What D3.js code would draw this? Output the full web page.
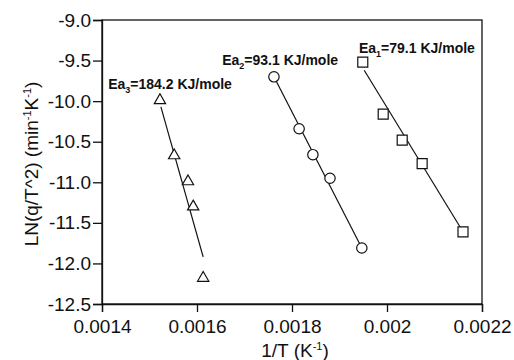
<!DOCTYPE html>
<html><head><meta charset="utf-8">
<script src="https://cdn.jsdelivr.net/npm/d3@7"></script>
<style>body{margin:0;background:#fff}svg{display:block}text{font-family:"Liberation Sans",Arial,sans-serif;fill:#111}</style>
</head><body><svg id="c" width="514" height="360"></svg>
<script>
// Data
const xTicks = [0.0014, 0.0016, 0.0018, 0.002, 0.0022];
const xTickLabels = ["0.0014", "0.0016", "0.0018", "0.002", "0.0022"];
const yTicks = [-9.0, -9.5, -10.0, -10.5, -11.0, -11.5, -12.0, -12.5];
const yTickLabels = ["-9.0", "-9.5", "-10.0", "-10.5", "-11.0", "-11.5", "-12.0", "-12.5"];
const s1X = [0.001949, 0.001992, 0.002032, 0.002074, 0.002160];
const s1Y = [-9.52, -10.16, -10.48, -10.77, -11.61];
const s1Fit = [[0.001952, -9.62], [0.002160, -11.61]];
const s2X = [0.001762, 0.001815, 0.001844, 0.001880, 0.001947];
const s2Y = [-9.70, -10.34, -10.66, -10.95, -11.81];
const s2Fit = [[0.001762, -9.70], [0.001947, -11.81]];
const s3X = [0.001522, 0.001552, 0.001581, 0.001592, 0.001613];
const s3Y = [-9.99, -10.67, -10.99, -11.30, -12.18];
const s3Fit = [[0.001524, -10.07], [0.001613, -11.92]];
const labels = [
  {main: "Ea", sub: "1", rest: "=79.1 KJ/mole", x: 0.001941, y: -9.41},
  {main: "Ea", sub: "2", rest: "=93.1 KJ/mole", x: 0.001653, y: -9.56},
  {main: "Ea", sub: "3", rest: "=184.2 KJ/mole", x: 0.001413, y: -9.85}
];

const svg = d3.select("#c");
const x = d3.scaleLinear().domain([0.0014, 0.0022]).range([102, 482]);
const y = d3.scaleLinear().domain([-12.5, -9.0]).range([304, 20]);

// frame
svg.append("rect").attr("x", 102).attr("y", 20).attr("width", 380).attr("height", 284)
  .attr("fill", "none").attr("stroke", "#111").attr("stroke-width", 1.3);

const xa = svg.append("g").attr("transform", "translate(0,304)")
  .call(d3.axisBottom(x).tickValues(xTicks).tickFormat((d, i) => xTickLabels[i]).tickSizeOuter(0).tickSize(8).tickPadding(8));
const ya = svg.append("g").attr("transform", "translate(102,0)")
  .call(d3.axisLeft(y).tickValues(yTicks).tickFormat((d, i) => yTickLabels[i]).tickSizeOuter(0).tickSize(9).tickPadding(2));
[xa, ya].forEach(a => {
  a.select(".domain").attr("stroke", "#111").attr("stroke-width", 1.3);
  a.selectAll(".tick line").attr("stroke", "#111").attr("stroke-width", 1.3);
  a.selectAll(".tick text").attr("font-size", 19).attr("fill", "#111").attr("font-family", "Liberation Sans, Arial, sans-serif");
});

const line = d3.line().x(d => x(d[0])).y(d => y(d[1]));
[s1Fit, s2Fit, s3Fit].forEach(f => {
  svg.append("path").attr("d", line(f)).attr("fill", "none").attr("stroke", "#111").attr("stroke-width", 1.2);
});

const sym = (type, size) => d3.symbol().type(type).size(size)();
function pts(xs, ys, type, size) {
  svg.append("g").selectAll("path").data(xs.map((v, i) => [v, ys[i]])).join("path")
    .attr("transform", d => `translate(${x(d[0])},${y(d[1])})`)
    .attr("d", sym(type, size))
    .attr("fill", "#fff").attr("stroke", "#111").attr("stroke-width", 1.2);
}
pts(s1X, s1Y, d3.symbolSquare, 100);
pts(s2X, s2Y, d3.symbolCircle, 85);
pts(s3X, s3Y, d3.symbolTriangle, 55);

labels.forEach(l => {
  const t = svg.append("text").attr("x", x(l.x)).attr("y", y(l.y)).attr("font-size", 14).attr("font-weight", "bold");
  t.append("tspan").text(l.main);
  t.append("tspan").attr("dy", 4).attr("font-size", 9).text(l.sub);
  t.append("tspan").attr("dy", -4).text(l.rest);
});

// axis titles
const xt = svg.append("text").attr("x", 295).attr("y", 357).attr("text-anchor", "middle").attr("font-size", 19);
xt.append("tspan").text("1/T (K");
xt.append("tspan").attr("dy", -7).attr("font-size", 11).text("-1");
xt.append("tspan").attr("dy", 7).text(")");

const yt = svg.append("text").attr("transform", "translate(38,164) rotate(-90)").attr("text-anchor", "middle").attr("font-size", 19);
yt.append("tspan").text("LN(q/T^2) (min");
yt.append("tspan").attr("dy", -7).attr("font-size", 11).text("-1");
yt.append("tspan").attr("dy", 7).text("K");
yt.append("tspan").attr("dy", -7).attr("font-size", 11).text("-1");
yt.append("tspan").attr("dy", 7).text(")");
</script></body></html>
